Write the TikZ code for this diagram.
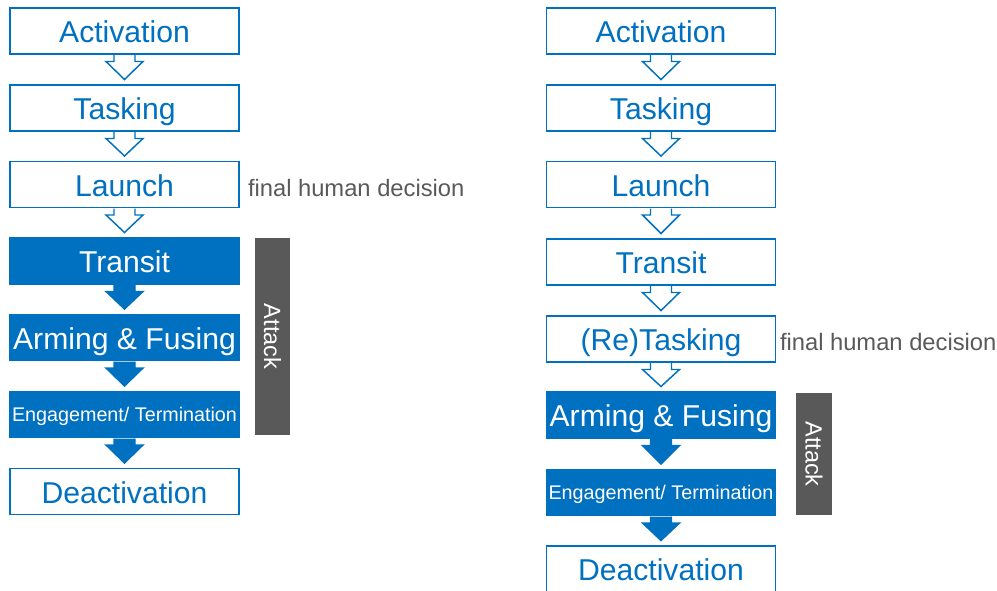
\documentclass[tikz,border=0pt]{standalone}
\usepackage{fontspec}
\setmainfont{Liberation Sans}
\usetikzlibrary{calc}
\definecolor{boxblue}{RGB}{0,112,192}
\definecolor{bargray}{RGB}{89,89,89}

\begin{document}
\begin{tikzpicture}[x=0.75pt, y=-0.75pt]
	\tikzstyle{every node} = [inner sep=0pt, outer sep=0pt]
	\tikzstyle{boxopen} = [draw=boxblue, line width=1.1pt, fill=white, text=boxblue, minimum width=171.75pt, minimum height=34.5pt, text height=17.3pt, text depth=0pt, font=\fontsize{22.6}{27}\selectfont]
	\tikzstyle{boxfull} = [boxopen, fill=boxblue, text=white]
	\tikzstyle{small} = [text height=11pt, font=\fontsize{14.8}{17}\selectfont]
	\tikzstyle{attack} = [fill=bargray, text=white, minimum height=26.5pt, rotate=-90, text height=12.6pt, text depth=0pt, font=\fontsize{17.6}{21}\selectfont]
	\tikzstyle{decision} = [anchor=base west, text=bargray, font=\fontsize{17.8}{21}\selectfont]
	\tikzstyle{hollow} = [draw=boxblue, line width=1.1pt, fill=white, to path={($(\tikztostart)+(-10.5,1)$) -- ($(\tikztostart)+(-10.5,7.5)$) -- ($(\tikztostart)+(-18.5,7.5)$) -- ($(\tikztotarget)+(0,-5.5)$) -- ($(\tikztostart)+(18.5,7.5)$) -- ($(\tikztostart)+(10.5,7.5)$) -- ($(\tikztostart)+(10.5,1)$)}]
	\tikzstyle{fullarrow} = [hollow, fill=boxblue]
	\useasboundingbox (0,0) rectangle (997,590);
	% left chain
	\node [boxopen] (Act1) at (124.5, 31) {Activation};
	\node [boxopen] (Task1) at (124.5, 108) {Tasking};
	\node [boxopen] (Launch1) at (124.5, 184.5) {Launch};
	\node [boxfull] (Transit1) at (124.5, 261) {Transit};
	\node [boxfull] (Arm1) at (124.5, 337.5) {Arming \& Fusing};
	\node [boxfull, small] (Eng1) at (124.5, 414.5) {Engagement/ Termination};
	\node [boxopen] (Deact1) at (124.5, 491.5) {Deactivation};
	\node [attack, minimum width=147.75pt] (Attack1) at (272.5, 336.5) {Attack};
	\node [decision] (Final1) at (248, 196) {final human decision};
	% right chain
	\node [boxopen] (Act2) at (661, 31) {Activation};
	\node [boxopen] (Task2) at (661, 108) {Tasking};
	\node [boxopen] (Launch2) at (661, 184.5) {Launch};
	\node [boxopen] (Transit2) at (661, 262) {Transit};
	\node [boxopen] (Retask2) at (661, 339) {(Re)Tasking};
	\node [boxfull] (Arm2) at (661, 415) {Arming \& Fusing};
	\node [boxfull, small] (Eng2) at (661, 492.5) {Engagement/ Termination};
	\node [boxopen] (Deact2) at (661, 569) {Deactivation};
	\node [attack, minimum width=91.5pt] (Attack2) at (814, 454) {Attack};
	\node [decision] (Final2) at (780, 350) {final human decision};
	\draw [hollow] (Act1.south) to (Task1.north);
	\draw [hollow] (Task1.south) to (Launch1.north);
	\draw [hollow] (Launch1.south) to (Transit1.north);
	\draw [fullarrow] (Transit1.south) to (Arm1.north);
	\draw [fullarrow] (Arm1.south) to (Eng1.north);
	\draw [fullarrow] (Eng1.south) to (Deact1.north);
	\draw [hollow] (Act2.south) to (Task2.north);
	\draw [hollow] (Task2.south) to (Launch2.north);
	\draw [hollow] (Launch2.south) to (Transit2.north);
	\draw [hollow] (Transit2.south) to (Retask2.north);
	\draw [hollow] (Retask2.south) to (Arm2.north);
	\draw [fullarrow] (Arm2.south) to (Eng2.north);
	\draw [fullarrow] (Eng2.south) to (Deact2.north);
\end{tikzpicture}
\end{document}
